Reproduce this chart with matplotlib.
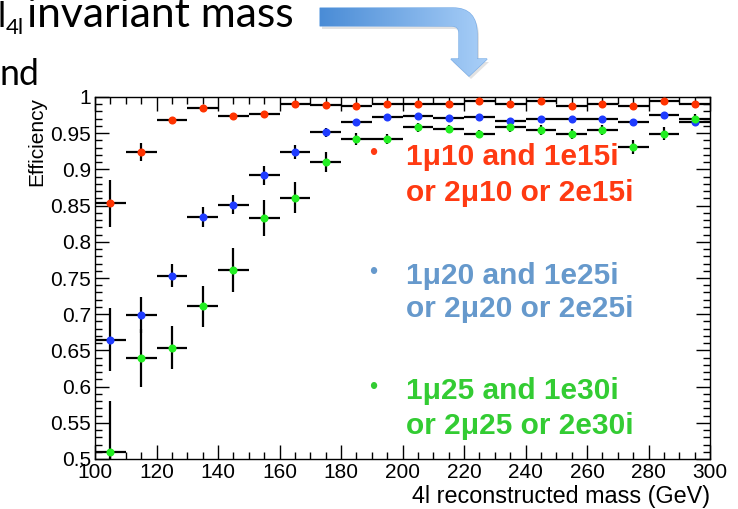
import numpy as np
import matplotlib
matplotlib.use("Agg")
import matplotlib.pyplot as plt
from matplotlib.path import Path
from matplotlib.patches import PathPatch
from matplotlib.colors import LinearSegmentedColormap
from matplotlib.ticker import MultipleLocator, FuncFormatter

# ---------------- data ----------------
mass = [105, 115, 125, 135, 145, 155, 165, 175, 185, 195,
        205, 215, 225, 235, 245, 255, 265, 275, 285, 295]
bin_half = 5

eff_red = [0.853, 0.924, 0.968, 0.985, 0.974, 0.977, 0.991, 0.989, 0.988, 0.990,
           0.991, 0.990, 0.994, 0.990, 0.994, 0.987, 0.990, 0.988, 0.994, 0.991]
err_red = [0.033, 0.012, 0.005, 0.004, 0.004, 0.004, 0.003, 0.003, 0.003, 0.003,
           0.003, 0.003, 0.003, 0.003, 0.003, 0.003, 0.003, 0.003, 0.003, 0.003]

eff_blue = [0.665, 0.699, 0.753, 0.834, 0.851, 0.892, 0.924, 0.951, 0.965, 0.973,
            0.974, 0.971, 0.972, 0.967, 0.969, 0.970, 0.969, 0.965, 0.975, 0.966]
err_blue = [0.043, 0.025, 0.016, 0.014, 0.013, 0.013, 0.010, 0.006, 0.005, 0.004,
            0.004, 0.004, 0.004, 0.004, 0.004, 0.004, 0.004, 0.005, 0.004, 0.004]

eff_green = [0.510, 0.639, 0.654, 0.711, 0.761, 0.833, 0.861, 0.910, 0.942, 0.942,
             0.958, 0.956, 0.949, 0.958, 0.954, 0.949, 0.954, 0.931, 0.949, 0.970]
err_green = [0.070, 0.040, 0.030, 0.028, 0.030, 0.025, 0.021, 0.014, 0.008, 0.007,
             0.006, 0.006, 0.006, 0.007, 0.007, 0.007, 0.007, 0.010, 0.009, 0.006]

legend_lines = [
    ("1\u03bc10 and 1e15i", "or 2\u03bc10 or 2e15i", "#ff3a12"),
    ("1\u03bc20 and 1e25i", "or 2\u03bc20 or 2e25i", "#6699cc"),
    ("1\u03bc25 and 1e30i", "or 2\u03bc25 or 2e30i", "#33cc33"),
]

W, H = 738, 509
fig = plt.figure(figsize=(W / 100, H / 100), dpi=100)
fig.patch.set_facecolor("white")
renderer = fig.canvas.get_renderer()

def fx(px):
    return px / W

def fy(py):
    return 1 - py / H

def fit_text(x, y, s, target_w, size0, **kw):
    t = fig.text(fx(x), fy(y), s, fontsize=size0, **kw)
    w = t.get_window_extent(renderer).width
    t.set_fontsize(size0 * target_w / w)
    return t

# ---------------- decoration layer (slide) ----------------
deco = fig.add_axes([0, 0, 1, 1], zorder=0)
deco.axis("off")

verts = [(320, 8), (453, 8), (477, 8), (477, 34), (477, 59), (487, 59), (469, 76),
         (451, 59), (459, 59), (459, 33), (459, 26), (452, 26), (320, 26), (320, 8)]
codes = [Path.MOVETO, Path.LINETO, Path.CURVE3, Path.CURVE3, Path.LINETO, Path.LINETO,
         Path.LINETO, Path.LINETO, Path.LINETO, Path.LINETO, Path.CURVE3, Path.CURVE3,
         Path.LINETO, Path.CLOSEPOLY]
shadow = PathPatch(Path([(x + 2, y + 3) for x, y in verts], codes), facecolor="#d0d0d0",
                   edgecolor="none", alpha=0.6)
deco.add_patch(shadow)
arrow = PathPatch(Path(verts, codes), facecolor="none", edgecolor="#7fb0e8", lw=1.0)
deco.add_patch(arrow)
grad = np.linspace(0, 1, 256).reshape(1, -1)
cmap = LinearSegmentedColormap.from_list("arr", ["#4a8cd6", "#a9cff8"])
im = deco.imshow(grad, cmap=cmap, extent=(320, 487, 76, 8), aspect="auto", zorder=1)
im.set_clip_path(arrow)
deco.set_xlim(0, W)
deco.set_ylim(H, 0)

title_font = "Lato"
fig.text(fx(-2), fy(27), "l", fontsize=25, family=title_font, ha="left", va="baseline")
fig.text(fx(6), fy(34), "4l", fontsize=16, family=title_font, ha="left", va="baseline")
fit_text(27, 27, "invariant mass", 268, 25, family=title_font, ha="left", va="baseline")
fit_text(0, 85, "nd", 40, 25, family=title_font, ha="left", va="baseline")

# ---------------- main plot ----------------
ax = fig.add_axes([fx(95), fy(459), (710 - 95) / W, (459 - 97) / H], zorder=2)
ax.set_xlim(100, 300)
ax.set_ylim(0.5, 1.0)

series = [(eff_red, err_red, "#ff3300"),
          (eff_blue, err_blue, "#1f3cff"),
          (eff_green, err_green, "#22ee22")]
for eff, err, col in series:
    ax.errorbar(mass, eff, xerr=bin_half, yerr=err, fmt="o", color=col,
                markersize=5.8, markeredgewidth=0, ecolor="black",
                elinewidth=1.6, capsize=0, zorder=3)

ax.xaxis.set_major_locator(MultipleLocator(20))
ax.xaxis.set_minor_locator(MultipleLocator(5))
ax.yaxis.set_major_locator(MultipleLocator(0.05))
ax.yaxis.set_minor_locator(MultipleLocator(0.01))
ax.yaxis.set_major_formatter(FuncFormatter(lambda v, p: "%g" % round(v, 2)))
ax.tick_params(which="both", direction="in", top=True, right=True, width=1.0,
               labelsize=15, pad=3)
ax.tick_params(which="major", length=10)
ax.tick_params(which="minor", length=5)
for lab in ax.get_xticklabels() + ax.get_yticklabels():
    lab.set_family("Liberation Sans")
for s in ax.spines.values():
    s.set_linewidth(1.0)

ax.set_xlabel("4l reconstructed mass (GeV)", loc="right", fontsize=16.8,
              family="Liberation Sans", labelpad=2)
ax.set_ylabel("Efficiency", loc="top", fontsize=15, family="Liberation Sans",
              labelpad=3)

# legend-like annotations (baselines in pixels)
baselines = [(165, 201), (284, 317), (399, 434)]
bullet_y = [154, 273, 388]
for (l1, l2, col), (b1, b2), by in zip(legend_lines, baselines, bullet_y):
    for s, b in ((l1, b1), (l2, b2)):
        fig.text(fx(406), fy(b), s, fontsize=21.5, fontweight="bold",
                 family="Liberation Sans", color=col, ha="left", va="baseline",
                 zorder=5)
    fig.text(fx(373), fy(by), "\u2022", fontsize=17, color=col,
             family="Liberation Sans", ha="center", va="center", zorder=5)

fig.savefig("out.png", dpi=100, facecolor="white")
